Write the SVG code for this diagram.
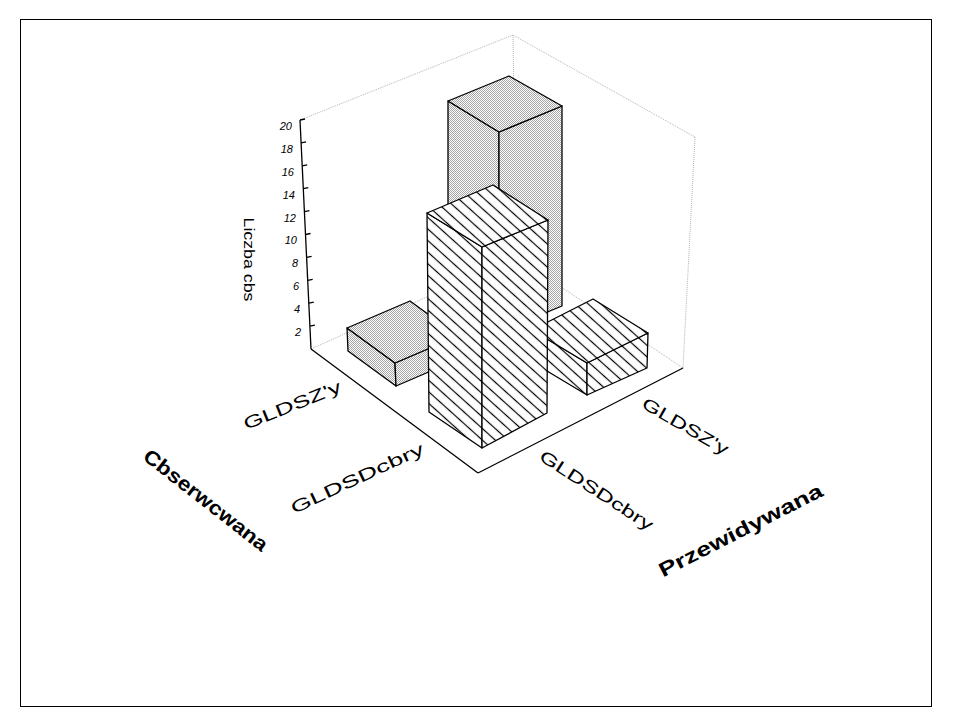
<svg xmlns="http://www.w3.org/2000/svg" width="953" height="724" viewBox="0 0 953 724">
<defs>
<pattern id="gray" width="2" height="2" patternUnits="userSpaceOnUse">
<rect width="2" height="2" fill="#ffffff"/>
<rect width="1" height="1" fill="#a4a4a4"/>
<rect x="1" y="1" width="1" height="1" fill="#a4a4a4"/>
</pattern>
<pattern id="hatch" width="12" height="8.6" patternUnits="userSpaceOnUse" patternTransform="rotate(42)">
<rect width="12" height="8.6" fill="#ffffff"/>
<line x1="0" y1="4.3" x2="12" y2="4.3" stroke="#000" stroke-width="1.2"/>
</pattern>
<style>
.dot{stroke:#b4b4b4;stroke-width:1;stroke-dasharray:1 1;fill:none}
.ax{stroke:#000;stroke-width:1.3;fill:none}
.g{fill:url(#gray);stroke:#000;stroke-width:1.3;stroke-linejoin:round}
.h{fill:url(#hatch);stroke:#000;stroke-width:1.3;stroke-linejoin:round}
.tk{font-family:"Liberation Sans",Arial,sans-serif;font-size:11px;font-style:italic;text-anchor:end;fill:#000}
.cat{font-family:"Liberation Sans",Arial,sans-serif;font-size:17px;text-anchor:middle;fill:#000}
.ttl{font-family:"Liberation Sans",Arial,sans-serif;font-size:20px;font-weight:bold;text-anchor:middle;fill:#000}
.yl{font-family:"Liberation Sans",Arial,sans-serif;font-size:15px;text-anchor:middle;fill:#000}
</style>
</defs>
<rect x="20.5" y="19.5" width="911" height="687" fill="#fff" stroke="#000" stroke-width="1"/>

<g id="walls">
<line class="dot" x1="300" y1="120" x2="513" y2="35"/>
<line class="dot" x1="513" y1="35" x2="695" y2="137"/>
<line class="dot" x1="695" y1="137" x2="683" y2="368"/>
<line class="dot" x1="513" y1="35" x2="516" y2="257"/>
<line class="dot" x1="311" y1="349" x2="516" y2="257"/>
<line class="dot" x1="516" y1="257" x2="683" y2="368"/>
</g>

<g id="axes">
<line class="ax" x1="300" y1="120" x2="311" y2="349"/>
<line class="ax" x1="311" y1="349" x2="478" y2="473"/>
<line class="ax" x1="478" y1="473" x2="683" y2="368"/>
<g id="ticks" class="ax">
<line x1="309.9" y1="326.1" x2="314.9" y2="325.1"/>
<line x1="308.8" y1="303.2" x2="313.8" y2="302.2"/>
<line x1="307.7" y1="280.3" x2="312.7" y2="279.3"/>
<line x1="306.6" y1="257.4" x2="311.6" y2="256.4"/>
<line x1="305.5" y1="234.5" x2="310.5" y2="233.5"/>
<line x1="304.4" y1="211.6" x2="309.4" y2="210.6"/>
<line x1="303.3" y1="188.7" x2="308.3" y2="187.7"/>
<line x1="302.2" y1="165.8" x2="307.2" y2="164.8"/>
<line x1="301.1" y1="142.9" x2="306.1" y2="141.9"/>
<line x1="300" y1="120" x2="305" y2="119"/>
</g>
<g id="ticklabels">
<text class="tk" x="301" y="336">2</text>
<text class="tk" x="300" y="313">4</text>
<text class="tk" x="299" y="290">6</text>
<text class="tk" x="298" y="267">8</text>
<text class="tk" x="297" y="244">10</text>
<text class="tk" x="296" y="222">12</text>
<text class="tk" x="295" y="199">14</text>
<text class="tk" x="294" y="176">16</text>
<text class="tk" x="293" y="153">18</text>
<text class="tk" x="292" y="130">20</text>
</g>
</g>

<g id="bar-zly-zly">
<polygon class="g" points="448,101 499,132 499,332 448,301"/>
<polygon class="g" points="499,132 562,106 562,306 499,332"/>
<polygon class="g" points="448,101 509,76 562,106 499,132"/>
</g>

<g id="bar-zly-dobry">
<polygon class="g" points="347,328 395,363 396,386 348,351"/>
<polygon class="g" points="395,363 458,336 459,359 396,386"/>
<polygon class="g" points="347,328 410,301 458,336 395,363"/>
</g>

<g id="bar-dobry-zly">
<polygon class="h" points="532,330 587,363 587,395 532,362"/>
<polygon class="h" points="587,363 648,333 647,368 587,395"/>
<polygon class="h" points="532,330 593,299 648,333 587,363"/>
</g>

<g id="bar-dobry-dobry">
<polygon class="h" points="427,213 482,247 482,448 429,412"/>
<polygon class="h" points="482,247 548,220 547,413 482,448"/>
<polygon class="h" points="427,213 493,185 548,220 482,247"/>
</g>

<g id="labels">
<text class="yl" transform="translate(248.5,259.5) rotate(90)" x="0" y="5" textLength="84" lengthAdjust="spacingAndGlyphs">Liczba cbs</text>
<text class="cat" transform="translate(292.5,406) rotate(-22)" x="0" y="5" textLength="104" lengthAdjust="spacingAndGlyphs">GLDSZ'y</text>
<text class="cat" transform="translate(357.5,479) rotate(-25)" x="0" y="5" textLength="145" lengthAdjust="spacingAndGlyphs">GLDSDcbry</text>
<text class="ttl" transform="translate(206,500) rotate(38)" x="0" y="7" textLength="152" lengthAdjust="spacingAndGlyphs">Cbserwcwana</text>
<text class="cat" transform="translate(685,427) rotate(30)" x="0" y="5" textLength="97" lengthAdjust="spacingAndGlyphs">GLDSZ'y</text>
<text class="cat" transform="translate(596,491) rotate(33)" x="0" y="5" textLength="132" lengthAdjust="spacingAndGlyphs">GLDSDcbry</text>
<text class="ttl" transform="translate(741,531) rotate(-27)" x="0" y="6" textLength="181" lengthAdjust="spacingAndGlyphs">Przewidywana</text>
</g>
</svg>
